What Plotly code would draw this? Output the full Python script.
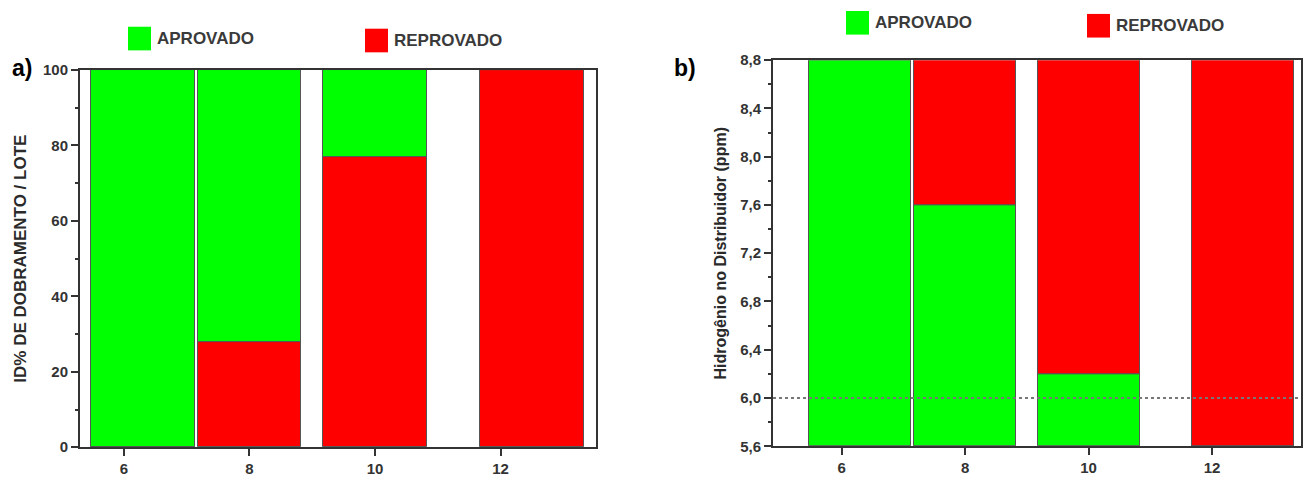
import plotly.graph_objects as go

# ---- data ----
tick_labels = ["6", "8", "10", "12"]
tick_vals = [6, 8, 10, 12]
bar_x = [6.3, 8.0, 10.0, 12.5]          # bar centres
# panel a: % per lot
reprovado_a = [0, 28, 77, 100]
aprovado_a = [100, 72, 23, 0]
# panel b: hydrogen in distributor (ppm)
h_min, h_max = 5.6, 8.8
h_aprovado_top = [8.8, 7.6, 6.2, 5.6]
h_limit = 6.0

GREEN = "#00FF00"
RED = "#FF0000"
EDGE = dict(color="#555555", width=1)
BW = 1.65

fig = go.Figure()

# panel a
fig.add_trace(go.Bar(x=bar_x, y=reprovado_a, base=[0]*4, width=BW, marker=dict(color=RED, line=EDGE),
                     xaxis="x", yaxis="y", showlegend=False, hoverinfo="skip"))
fig.add_trace(go.Bar(x=bar_x, y=aprovado_a, base=reprovado_a, width=BW, marker=dict(color=GREEN, line=EDGE),
                     xaxis="x", yaxis="y", showlegend=False, hoverinfo="skip"))
# panel b
fig.add_trace(go.Bar(x=bar_x, y=[v - h_min for v in h_aprovado_top], base=[h_min]*4, width=BW,
                     marker=dict(color=GREEN, line=EDGE), xaxis="x2", yaxis="y2", showlegend=False, hoverinfo="skip"))
fig.add_trace(go.Bar(x=bar_x, y=[h_max - v for v in h_aprovado_top], base=h_aprovado_top, width=BW,
                     marker=dict(color=RED, line=EDGE), xaxis="x2", yaxis="y2", showlegend=False, hoverinfo="skip"))

W, H = 1312, 477
def px(v): return v / W
def py(v): return 1 - (v - 8) / 461.0

FONT = "Arial, Liberation Sans"
tickfont = dict(family=FONT, size=15, color="#333333", weight="bold")
axline = dict(showline=True, linecolor="#333333", linewidth=2, mirror=True, showgrid=False, zeroline=False,
              ticks="outside", ticklen=7, tickwidth=2, tickcolor="#333333", tickfont=tickfont)

fig.update_layout(
    width=W, height=H, margin=dict(l=0, r=0, t=0, b=0),
    paper_bgcolor="white", plot_bgcolor="white",
    barmode="overlay", separators=",.", bargap=0,
    xaxis=dict(domain=[px(80), px(596)], range=[5.30, 13.52], tickvals=tick_vals, ticktext=tick_labels,
               anchor="y", **axline),
    yaxis=dict(domain=[py(453), py(70)], range=[0, 100], dtick=20, anchor="x",
               minor=dict(ticks="outside", ticklen=3, dtick=10, tickcolor="#333333"),
               title=dict(text="ID% DE DOBRAMENTO / LOTE", font=dict(family=FONT, size=17, color="#2a2a2a", weight="bold"), standoff=12),
               **axline),
    xaxis2=dict(domain=[px(773), px(1301)], range=[4.89, 13.44], tickvals=tick_vals, ticktext=tick_labels,
                anchor="y2", **axline),
    yaxis2=dict(domain=[py(452), py(60)], range=[h_min, h_max], dtick=0.4, tick0=5.6, tickformat=".1f", anchor="x2",
                minor=dict(ticks="outside", ticklen=3, dtick=0.2, tickcolor="#333333"),
                title=dict(text="Hidrogênio no Distribuidor (ppm)", font=dict(family=FONT, size=16, color="#2a2a2a", weight="bold"), standoff=10),
                **axline),
)

# dotted limit line on panel b
fig.add_shape(type="line", xref="x2 domain", yref="y2", x0=0, x1=1, y0=h_limit, y1=h_limit,
              line=dict(color="#777777", width=2, dash="dot"), layer="above")

# legends (squares + labels)
legend_items = [
    (128, 26, GREEN, "APROVADO"), (365, 28, RED, "REPROVADO"),
    (846, 10, GREEN, "APROVADO"), (1087, 13, RED, "REPROVADO"),
]
for x0, y0, col, txt in legend_items:
    fig.add_shape(type="rect", xref="paper", yref="paper", x0=px(x0), x1=px(x0 + 23), y0=py(y0 + 24), y1=py(y0),
                  fillcolor=col, line=dict(width=0))
    fig.add_annotation(xref="paper", yref="paper", x=px(x0 + 27), y=py(y0 + 12), text=txt, showarrow=False,
                       xanchor="left", yanchor="middle",
                       font=dict(family=FONT, size=17, color="#3a3a3a", weight="bold"))

# panel labels
for x, y, t in [(10, 68, "a)"), (672, 68, "b)")]:
    fig.add_annotation(xref="paper", yref="paper", x=px(x), y=py(y), text=t, showarrow=False,
                       xanchor="left", yanchor="middle",
                       font=dict(family=FONT, size=23, color="#000000", weight="bold"))

fig.write_html("out.html", config={"displayModeBar": False},
               post_script="document.body.style.margin='0px';")
